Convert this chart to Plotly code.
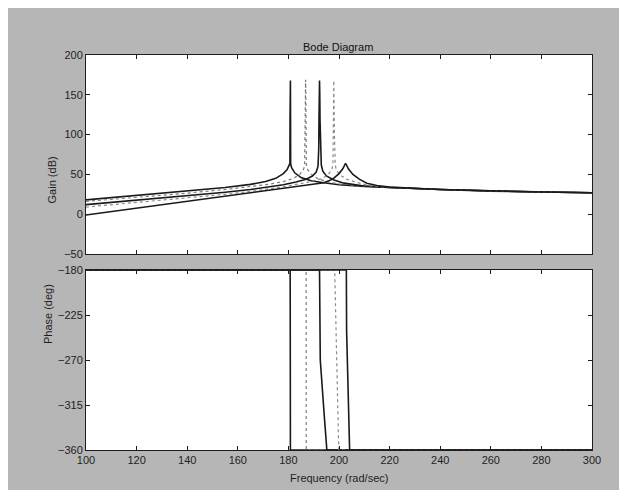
import plotly.graph_objects as go

# ---------------- data ----------------
freq_ticks = [100, 120, 140, 160, 180, 200, 220, 240, 260, 280, 300]
gain_ticks = [-50, 0, 50, 100, 150, 200]
phase_ticks = [-360, -315, -270, -225, -180]

# gain curves (rad/sec, dB)
f1 = [100, 120, 140, 155, 165, 171, 175, 178, 179.5, 180.3, 180.6, 180.65, 180.7, 180.75, 180.8, 180.9, 181.3, 182.5, 185, 189, 194, 200, 210, 220, 240, 260, 280, 300]
g1 = [18, 23.5, 29, 33.5, 37.5, 41, 45, 51, 56, 61, 64, 118, 66, 118, 168, 63, 58, 52, 46, 42, 39.5, 37, 35, 33.5, 31, 29, 27.8, 27]

f2 = [100, 120, 140, 155, 165, 172, 178, 182, 184.5, 185.8, 186.4, 186.6, 186.7, 186.8, 186.9, 187.1, 187.6, 189, 191.5, 195, 200, 210, 220, 240, 260, 280, 300]
g2 = [16, 21, 26.5, 31, 34.5, 37.5, 41, 45, 50, 55, 60, 118, 144, 169, 144, 62, 56, 50, 45, 41, 38, 35, 33.5, 31, 29, 27.8, 27]

f3 = [100, 120, 140, 155, 165, 172, 178, 183, 187, 189.5, 191, 191.7, 192.0, 192.1, 192.2, 192.3, 192.4, 192.5, 192.7, 193.0, 193.6, 195, 198, 202, 210, 220, 240, 260, 280, 300]
g3 = [12, 17.5, 23, 27.5, 31, 34, 37, 40.5, 44, 48, 53, 60, 83, 121, 143, 168, 150, 118, 85, 62, 54, 48, 43, 39, 35.5, 33.5, 31, 29, 27.8, 27]

f4 = [100, 120, 140, 155, 165, 172, 178, 184, 189, 193, 195.5, 197, 197.6, 197.8, 197.95, 198.05, 198.2, 198.5, 199, 200.5, 203, 207, 212, 220, 240, 260, 280, 300]
g4 = [9, 14.5, 20, 25, 28.5, 31.5, 34.5, 38, 41, 44.5, 49, 55, 62, 120, 168, 140, 100, 62, 55, 49, 44, 40, 36, 33.5, 31, 29, 27.8, 27]

f5 = [100, 120, 140, 155, 165, 172, 178, 184, 189, 194, 197.5, 200, 201.5, 202.6, 203.7, 205.5, 208, 211, 215, 220, 240, 260, 280, 300]
g5 = [-1, 7.5, 16, 22.5, 27, 30, 32.5, 35, 37, 39.5, 44, 51, 57, 64, 57, 50, 44, 39, 36, 34, 31, 29, 27.8, 27]

# phase curves (rad/sec, deg)
pf1 = [100, 180.7, 180.75, 180.8, 300]
p1 = [-180, -180, -270, -360, -360]
pf2 = [100, 187.0, 187.05, 300]
p2 = [-180, -180, -360, -360]
pf3 = [100, 192.3, 192.4, 192.6, 194.3, 195.2, 300]
p3 = [-180, -180, -210, -270, -330, -360, -360]
pf4 = [100, 198.3, 199.9, 300]
p4 = [-180, -180, -360, -360]
pf5 = [100, 202.9, 203.0, 204.2, 300]
p5 = [-180, -180, -240, -360, -360]

gain_series = [(f1, g1), (f2, g2), (f3, g3), (f4, g4), (f5, g5)]
phase_series = [(pf1, p1), (pf2, p2), (pf3, p3), (pf4, p4), (pf5, p5)]
styles = [
    dict(color="#1a1a1a", width=1.6, dash="solid"),
    dict(color="#7a7a7a", width=1.2, dash="dot"),
    dict(color="#1a1a1a", width=1.6, dash="solid"),
    dict(color="#8a8a8a", width=1.2, dash="dot"),
    dict(color="#1a1a1a", width=1.6, dash="solid"),
]

# ---------------- figure ----------------
fig = go.Figure()
for (x, y), st in zip(gain_series, styles):
    fig.add_trace(go.Scatter(x=x, y=y, mode="lines", line=st, xaxis="x", yaxis="y",
                             showlegend=False, hoverinfo="skip"))
for (x, y), st in zip(phase_series, styles):
    fig.add_trace(go.Scatter(x=x, y=y, mode="lines", line=st, xaxis="x2", yaxis="y2",
                             showlegend=False, hoverinfo="skip"))

font = dict(family="Liberation Sans, Arial, sans-serif", size=11, color="#1e1e1e")
axis_common = dict(showline=True, linecolor="#1e1e1e", linewidth=1, mirror="ticks",
                   ticks="inside", ticklen=4, tickcolor="#1e1e1e", showgrid=False,
                   zeroline=False, tickfont=font)

H = 395.0
fig.update_layout(
    width=627, height=490,
    margin=dict(l=78, r=43, t=47, b=48),
    paper_bgcolor="#b6b6b6", plot_bgcolor="white",
    font=font,
    xaxis=dict(domain=[0, 1], anchor="y", range=[100, 300], tickvals=freq_ticks,
               showticklabels=False, **axis_common),
    yaxis=dict(domain=[(H - 199) / H, 1], anchor="x", range=[-50, 200], tickvals=gain_ticks,
               **axis_common),
    xaxis2=dict(domain=[0, 1], anchor="y2", range=[100, 300], tickvals=freq_ticks,
                ticktext=[str(v) for v in freq_ticks], **axis_common),
    yaxis2=dict(domain=[0, 180 / H], anchor="x2", range=[-360, -180], tickvals=phase_ticks,
                **axis_common),
    annotations=[
        dict(text="Bode Diagram", x=0.498, y=1.04, xref="paper", yref="paper",
             showarrow=False, font=dict(family="Liberation Sans, Arial, sans-serif", size=11, color="#111")),
        dict(text="Gain (dB)", x=-0.083, y=0.747, xref="paper", yref="paper",
             showarrow=False, textangle=-90, font=font),
        dict(text="Phase (deg)", x=-0.091, y=0.263, xref="paper", yref="paper",
             showarrow=False, textangle=-90, font=font),
        dict(text="Frequency (rad/sec)", x=0.5, y=-0.091, xref="paper", yref="paper",
             showarrow=False, font=font),
    ],
)

fig.write_html("out.html")
